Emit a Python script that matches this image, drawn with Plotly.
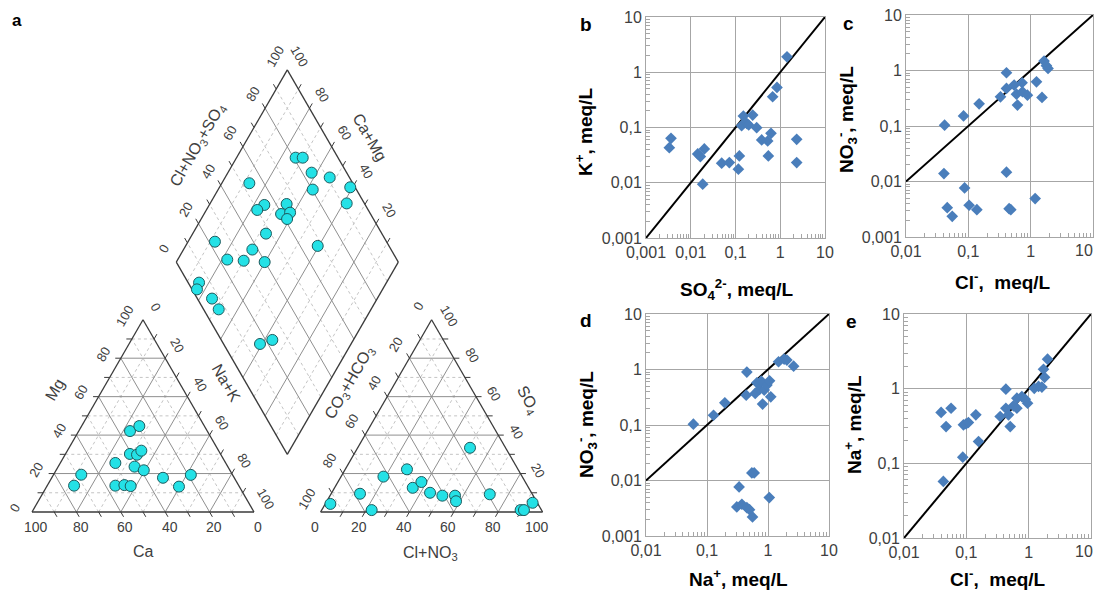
import numpy as np
import plotly.graph_objects as go

# ---------------- DATA ----------------
# Piper: cation triangle (%)
cat_ca = [74.2, 68.1, 49.7, 34.8, 29.3, 40.8, 37.8, 34.8, 42.0, 38.8, 55.6, 51.4, 48.8, 32.1, 27.2, 18.8]
cat_mg = [13.7, 19.4, 25.5, 42.1, 44.7, 30.2, 29.8, 31.9, 23.6, 21.7, 13.7, 14.0, 13.5, 17.8, 13.2, 19.3]
# Piper: anion triangle (%)
an_clno3 = [2.3, 13.0, 22.5, 19.1, 27.8, 35.2, 37.6, 44.3, 50.6, 56.3, 58.2, 50.6, 71.6, 89.6, 91.1, 93.1]
an_so4 = [4.2, 9.5, 1.0, 18.4, 22.2, 12.6, 15.6, 10.0, 8.5, 8.5, 5.6, 33.4, 9.2, 1.0, 1.0, 4.8]
# Piper: diamond (%)
dia_clno3so4 = [80.9, 84.1, 84.2, 91.1, 97.8, 92.0, 80.3, 53.4, 54.5, 50.0, 64.8, 59.7, 64.1, 61.1,
                47.8, 22.7, 37.5, 23.6, 30.7, 39.8, 67.9, 4.9, 2.2, 6.6, 6.8, 16.4, 23.0]
dia_camg = [73.4, 70.2, 62.3, 52.9, 41.1, 38.5, 57.4, 87.6, 75.2, 77.1, 65.4, 65.3, 61.6, 61.3,
            67.0, 87.9, 69.0, 77.7, 70.0, 60.2, 40.5, 84.4, 83.6, 74.4, 68.6, 41.0, 36.5]

# Panel b: SO4 vs K
b_so4 = [0.00362, 0.00332, 0.0143, 0.0164, 0.0201, 0.0185, 0.0491, 0.0728, 0.122, 0.116, 0.137, 0.150,
         0.178, 0.197, 0.242, 0.297, 0.385, 0.524, 0.621, 0.542, 0.676, 0.845, 1.415, 2.33, 2.33]
b_k = [0.0638, 0.0432, 0.0333, 0.0298, 0.0409, 0.00942, 0.0226, 0.0232, 0.0306, 0.0176, 0.108, 0.161,
       0.119, 0.111, 0.168, 0.0993, 0.0595, 0.0570, 0.0785, 0.0306, 0.360, 0.531, 1.90, 0.0612, 0.0232]

# Panel c: Cl vs NO3
c_cl = [0.0416, 0.0406, 0.0459, 0.0552, 0.0838, 0.0871, 0.103, 0.137, 0.149, 0.328, 0.409, 0.409, 0.409,
        0.451, 0.480, 0.543, 0.592, 0.614, 0.729, 0.738, 0.887, 1.24, 1.18, 1.52, 1.64, 1.79, 1.90]
c_no3 = [0.1035, 0.0139, 0.00338, 0.00236, 0.152, 0.00766, 0.00373, 0.00311, 0.251, 0.336, 0.910, 0.475,
         0.0147, 0.00324, 0.00311, 0.546, 0.375, 0.238, 0.601, 0.414, 0.360, 0.626, 0.00492, 0.327, 1.48,
         1.22, 1.09]

# Panel d: Na vs NO3
d_na = [0.0598, 0.128, 0.196, 0.450, 0.439, 0.336, 0.308, 0.373, 0.450, 0.498, 0.557, 0.544, 0.594, 1.05,
        0.656, 0.617, 0.726, 0.774, 0.815, 0.867, 0.960, 1.06, 1.11, 1.49, 1.84, 2.04, 2.63]
d_no3 = [0.1035, 0.150, 0.251, 0.898, 0.345, 0.00766, 0.00334, 0.00373, 0.00324, 0.00298, 0.00221, 0.0137,
         0.0137, 0.00492, 0.577, 0.370, 0.437, 0.618, 0.238, 0.426, 0.523, 0.626, 0.322, 1.38, 1.54, 1.48, 1.15]

# Panel e: Cl vs Na
e_cl = [0.0428, 0.0394, 0.0473, 0.0569, 0.0877, 0.0899, 0.0991, 0.108, 0.142, 0.157, 0.349, 0.431, 0.431,
        0.475, 0.506, 0.571, 0.647, 0.647, 0.778, 0.881, 0.960, 1.23, 1.44, 1.63, 1.80, 1.73, 2.01]
e_na = [0.0573, 0.480, 0.311, 0.547, 0.121, 0.328, 0.338, 0.352, 0.446, 0.196, 0.424, 0.984, 0.547, 0.446,
        0.311, 0.589, 0.745, 0.547, 0.784, 0.722, 0.638, 1.01, 1.07, 1.05, 1.42, 1.82, 2.48]

piper_ticks = [0, 20, 40, 60, 80, 100]
log_tick_vals = [0.001, 0.01, 0.1, 1, 10]
log_tick_text = ["0,001", "0,01", "0,1", "1", "10"]

# ---------------- GEOMETRY ----------------
S3 = np.sqrt(3) / 2
GAP = 30.0
AX0 = 100 + GAP  # anion triangle left x


def cat_xy(ca, mg):
    nak = 100 - ca - mg
    return nak + mg / 2, mg * S3


def an_xy(cl, so4):
    return AX0 + cl + so4 / 2, so4 * S3


BX, BY = 100 + GAP / 2, GAP * S3


def dia_xy(a, c):
    return BX + (a - c) / 2, BY + (a + c) * S3


fig = go.Figure()

OUTLINE = "#3a3a3a"
GRID = "#8f8f8f"
DOT = "#c4c4c4"
LBL = "#404040"
FONT = "Liberation Sans, Arial, sans-serif"


def add_segments(segs, color, width, dash=None):
    xs, ys = [], []
    for (p, q) in segs:
        xs += [p[0], q[0], None]
        ys += [p[1], q[1], None]
    fig.add_trace(go.Scatter(x=xs, y=ys, mode="lines", xaxis="x", yaxis="y",
                             line=dict(color=color, width=width, dash=dash),
                             hoverinfo="skip", showlegend=False))


solid, dotted, ticks = [], [], []
TL = 2.5
for v in range(10, 100, 10):
    tgt = solid if v % 20 == 0 else dotted
    # cation: Mg = v (horizontal), Ca = v, NaK = v
    p, q = cat_xy(100 - v, v), cat_xy(0, v)
    tgt.append((p, q))
    ticks.append((p, (p[0] - TL, p[1])))
    p, q = cat_xy(v, 0), cat_xy(v, 100 - v)
    tgt.append((p, q))
    ticks.append((p, (p[0] + TL * 0.5, p[1] - TL * S3)))
    p, q = cat_xy(100 - v, 0), cat_xy(0, 100 - v)
    tgt.append((p, q))
    ticks.append((q, (q[0] + TL * 0.5, q[1] + TL * S3)))
    # anion: SO4 = v, Cl = v, HCO3 = v
    p, q = an_xy(0, v), an_xy(100 - v, v)
    tgt.append((p, q))
    ticks.append((q, (q[0] + TL, q[1])))
    p, q = an_xy(v, 0), an_xy(v, 100 - v)
    tgt.append((p, q))
    ticks.append((p, (p[0] - TL * 0.5, p[1] - TL * S3)))
    p, q = an_xy(100 - v, 0), an_xy(0, 100 - v)
    tgt.append((p, q))
    ticks.append((q, (q[0] - TL * 0.5, q[1] + TL * S3)))
    # diamond
    p, q = dia_xy(v, 0), dia_xy(v, 100)
    tgt.append((p, q))
    ticks.append((q, (q[0] - TL * 0.5, q[1] + TL * S3)))
    p, q = dia_xy(0, v), dia_xy(100, v)
    tgt.append((p, q))
    ticks.append((q, (q[0] + TL * 0.5, q[1] + TL * S3)))

add_segments(dotted, DOT, 1, "dot")
add_segments(solid, GRID, 1)
add_segments(ticks, OUTLINE, 1)

# outlines
outl = []
c0, c1, c2 = cat_xy(100, 0), cat_xy(0, 0), cat_xy(0, 100)
outl += [(c0, c1), (c1, c2), (c2, c0)]
a0, a1, a2 = an_xy(0, 0), an_xy(100, 0), an_xy(0, 100)
outl += [(a0, a1), (a1, a2), (a2, a0)]
d0, d1, d2, d3 = dia_xy(0, 0), dia_xy(100, 0), dia_xy(100, 100), dia_xy(0, 100)
outl += [(d0, d1), (d1, d2), (d2, d3), (d3, d0)]
add_segments(outl, OUTLINE, 1.3)

# Piper points
MK = dict(size=11, color="#24e1e6", line=dict(color="#1d5b5e", width=1))
cx, cy = zip(*[cat_xy(a, b) for a, b in zip(cat_ca, cat_mg)])
ax_, ay_ = zip(*[an_xy(a, b) for a, b in zip(an_clno3, an_so4)])
dx_, dy_ = zip(*[dia_xy(a, b) for a, b in zip(dia_clno3so4, dia_camg)])
for X, Y in [(cx, cy), (ax_, ay_), (dx_, dy_)]:
    fig.add_trace(go.Scatter(x=list(X), y=list(Y), mode="markers", xaxis="x", yaxis="y",
                             marker=MK, showlegend=False, hoverinfo="skip"))

annots = []


def lab(x, y, text, angle=0, size=13):
    annots.append(dict(x=x, y=y, xref="x", yref="y", text=text,
                       showarrow=False, textangle=angle,
                       font=dict(size=size, color=LBL, family=FONT),
                       xanchor="center", yanchor="middle"))


for v in piper_ticks:
    # cation
    x, y = cat_xy(100 - v, v); lab(x - 8, y + 1.8, str(v), -60)          # Mg left
    x, y = cat_xy(v, 0); lab(x + 2, y - 6.8, str(v), 0, 14)              # Ca bottom
    x, y = cat_xy(0, 100 - v); lab(x + 5.5, y + 5.8, str(v), 60)         # Na+K right
    # anion
    x, y = an_xy(v, 0); lab(x - 2.5, y - 6.8, str(v), 0, 14)             # Cl+NO3 bottom
    x, y = an_xy(0, 100 - v); lab(x - 6, y + 6, str(v), -60)              # CO3+HCO3 left
    if v > 0:
        x, y = an_xy(100 - v, v); lab(x + 8, y + 1.5, str(v), 60)         # SO4 right
    # diamond
    x, y = dia_xy(v, 100); lab(x - 5.6, y + 6.2, str(v), -60)
    if v > 0:
        x, y = dia_xy(100, v); lab(x + 5.6, y + 6.2, str(v), 60)

lab(50, -18, "Ca", 0, 16)
lab(10.4, 55, "Mg", -60, 16)
lab(87.8, 58.1, "Na+K", 60, 16)
lab(142.8, 58.1, "CO<sub>3</sub>+HCO<sub>3</sub>", -60, 16)
lab(223, 50.5, "SO<sub>4</sub>", 60, 16)
lab(179.7, -18.5, "Cl+NO<sub>3</sub>", 0, 16)
lab(74.8, 164.9, "Cl+NO<sub>3</sub>+SO<sub>4</sub>", -60, 16)
lab(152.3, 168.9, "Ca+Mg", 60, 16)

# page places the figure 8px in from the top-left (body margin); compensate
OFF = 8
W, H = 1103 - 2 * OFF, 591 - OFF
k = 2.22
ox, oy = 32 - OFF, 512 - OFF
PW = 560 - OFF
piper_x = dict(domain=[0, PW / W], range=[(0 - ox) / k, (PW - ox) / k], visible=False,
               fixedrange=True, automargin=False)
piper_y = dict(domain=[0, 1], range=[(oy - H) / k, oy / k], visible=False, fixedrange=True,
               automargin=False)

# ---------------- LOG PANELS ----------------
BLUE = "#4a7ebb"
# (axis id, x, y, pixel box, x range, y range, draw last x label as annotation)
panels = [
    ("2", b_so4, b_k, (646, 825, 17, 238), (0.001, 10), (0.001, 10), False),
    ("3", c_cl, c_no3, (906, 1093, 15, 237), (0.01, 10), (0.001, 10), True),
    ("4", d_na, d_no3, (646, 829, 314, 536), (0.01, 10), (0.001, 10), False),
    ("5", e_cl, e_na, (904, 1091, 314, 538), (0.01, 10), (0.01, 10), True),
]
layout_axes = {}


def logaxis(lo, hi, dom, anchor, drop_last=False):
    vals = [v for v in log_tick_vals if lo <= v <= hi]
    txt = [log_tick_text[log_tick_vals.index(v)] for v in vals]
    if drop_last:
        txt[-1] = ""
    minor_vals = [m * 10.0 ** e for e in range(int(round(np.log10(lo))), int(round(np.log10(hi))))
                  for m in range(2, 10)]
    return dict(type="log", range=[np.log10(lo), np.log10(hi)], domain=dom, anchor=anchor,
                tickmode="array", tickvals=vals, ticktext=txt,
                showgrid=True, gridcolor="#a6a6a6", gridwidth=1,
                showline=True, linecolor="#a6a6a6", linewidth=1, mirror=True,
                ticks="", zeroline=False, fixedrange=True, automargin=False,
                ticklabeloverflow="allow",
                minor=dict(ticks="inside", ticklen=4, tickcolor="#a6a6a6", tickmode="array",
                           tickvals=minor_vals, showgrid=False),
                tickfont=dict(size=16, color=LBL, family=FONT))


for n, xs, ys, (x0, x1, y0, y1), xr, yr, drop in panels:
    xd = [(x0 - OFF) / W, (x1 - OFF) / W]
    yd = [1 - (y1 - OFF) / H, 1 - (y0 - OFF) / H]
    layout_axes["xaxis" + n] = logaxis(xr[0], xr[1], xd, "y" + n, drop)
    layout_axes["yaxis" + n] = logaxis(yr[0], yr[1], yd, "x" + n)
    if drop:
        # last x label would overflow the page edge: keep it, right-aligned at the edge
        annots.append(dict(x=1.0, y=yd[0], xref="paper", yref="paper", text=log_tick_text[-1],
                           showarrow=False, xanchor="right", yanchor="top", yshift=-3,
                           font=dict(size=16, color=LBL, family=FONT)))
    lo = max(xr[0], yr[0]); hi = min(xr[1], yr[1])
    fig.add_trace(go.Scatter(x=[lo, hi], y=[lo, hi], mode="lines", xaxis="x" + n, yaxis="y" + n,
                             line=dict(color="black", width=2), showlegend=False, hoverinfo="skip"))
    fig.add_trace(go.Scatter(x=xs, y=ys, mode="markers", xaxis="x" + n, yaxis="y" + n,
                             marker=dict(symbol="diamond", size=9, color=BLUE, line=dict(width=0)),
                             showlegend=False, hoverinfo="skip"))


def pann(x, y, text, angle=0, size=19):
    annots.append(dict(x=(x - OFF) / W, y=1 - (y - OFF) / H, xref="paper", yref="paper", text=text,
                       showarrow=False, textangle=angle,
                       font=dict(size=size, color="black", family=FONT),
                       xanchor="center", yanchor="middle"))


pann(17, 20, "<b>a</b>", 0, 17)
pann(586, 24, "<b>b</b>", 0, 19)
pann(848, 23, "<b>c</b>", 0, 19)
pann(586, 320, "<b>d</b>", 0, 19)
pann(851, 321, "<b>e</b>", 0, 19)

pann(584, 132, "<b>K<sup>+</sup>, meq/L</b>", -90)
pann(737, 289, "<b>SO<sub>4</sub><sup>2-</sup>, meq/L</b>", 0)
pann(846, 120, "<b>NO<sub>3</sub><sup>-</sup>, meq/L</b>", -90)
pann(1003, 281, "<b>Cl<sup>-</sup>,  meq/L</b>", 0)
pann(586, 425, "<b>NO<sub>3</sub><sup>-</sup>, meq/L</b>", -90)
pann(738, 578, "<b>Na<sup>+</sup>, meq/L</b>", 0)
pann(853, 425, "<b>Na<sup>+</sup>, meq/L</b>", -90)
pann(998, 578, "<b>Cl<sup>-</sup>,  meq/L</b>", 0)

fig.update_layout(width=W, height=H, margin=dict(l=0, r=0, t=0, b=0, autoexpand=False),
                  paper_bgcolor="white", plot_bgcolor="white",
                  xaxis=piper_x, yaxis=piper_y, annotations=annots, showlegend=False,
                  font=dict(family=FONT), **layout_axes)

fig.write_html("out.html")
